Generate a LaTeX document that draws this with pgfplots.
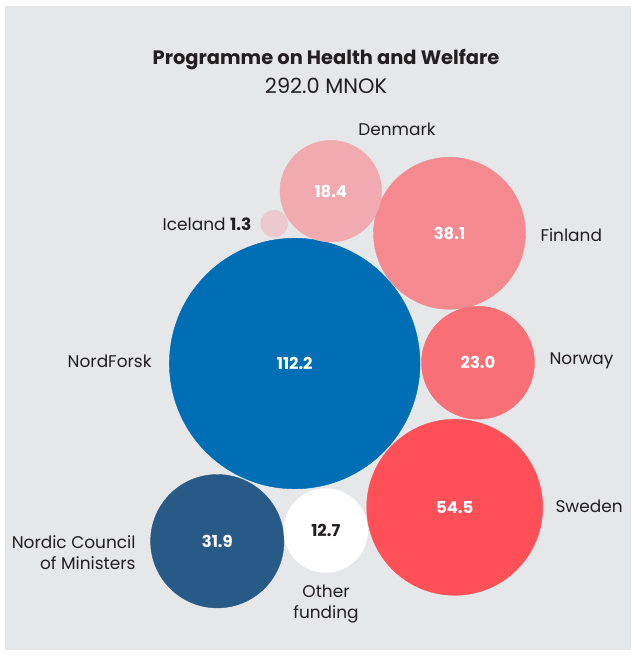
\documentclass[border=0pt]{standalone}
\usepackage{pgfplots}
\pgfplotsset{compat=1.18}
\usepackage{fontspec}
\setmainfont{Poppins}
\definecolor{bg}{HTML}{E6E7E9}
\definecolor{txt}{HTML}{231F20}
\definecolor{nordforsk}{HTML}{006EB5}
\definecolor{ncm}{HTML}{275A87}
\definecolor{sweden}{HTML}{FF5058}
\definecolor{norway}{HTML}{F96F76}
\definecolor{finland}{HTML}{F48A90}
\definecolor{denmark}{HTML}{F0AAB0}
\definecolor{iceland}{HTML}{EBC9CD}
\newcommand{\lbl}{\fontsize{17}{21}\selectfont}
\newcommand{\val}{\fontsize{16.5}{21}\selectfont\bfseries}
\begin{document}
\begin{tikzpicture}
\begin{axis}[
  width=636bp, height=656bp, scale only axis,
  xmin=0, xmax=636, ymin=0, ymax=656, y dir=reverse,
  hide axis, clip=false,
  nodes near coords align={center},
]
% page and panel
\addplot[fill=white, draw=none] coordinates {(0,0) (636,0) (636,656) (0,656)} -- cycle;
\addplot[fill=bg, draw=none] coordinates {(5,6) (631,6) (631,650) (5,650)} -- cycle;
% bubbles: (centre x, centre y), radius
\addplot[only marks, mark=*, mark size=125.3bp, color=nordforsk, mark options={draw=nordforsk, fill=nordforsk},
  nodes near coords={\val 112.2}, every node near coord/.append style={text=white, anchor=center}]
  coordinates {(294.7,363.5)};
\addplot[only marks, mark=*, mark size=88bp, color=sweden, mark options={draw=sweden, fill=sweden},
  nodes near coords={\val 54.5}, every node near coord/.append style={text=white, anchor=center}]
  coordinates {(454.7,507.3)};
\addplot[only marks, mark=*, mark size=76bp, color=finland, mark options={draw=finland, fill=finland},
  nodes near coords={\val 38.1}, every node near coord/.append style={text=white, anchor=center}]
  coordinates {(449.5,233.3)};
\addplot[only marks, mark=*, mark size=66.7bp, color=ncm, mark options={draw=ncm, fill=ncm},
  nodes near coords={\val 31.9}, every node near coord/.append style={text=white, anchor=center}]
  coordinates {(217.3,541.2)};
\addplot[only marks, mark=*, mark size=56.5bp, color=norway, mark options={draw=norway, fill=norway},
  nodes near coords={\val 23.0}, every node near coord/.append style={text=white, anchor=center}]
  coordinates {(478,362.7)};
\addplot[only marks, mark=*, mark size=50.8bp, color=denmark, mark options={draw=denmark, fill=denmark},
  nodes near coords={\val 18.4}, every node near coord/.append style={text=white, anchor=center}]
  coordinates {(330.8,191.2)};
\addplot[only marks, mark=*, mark size=42bp, color=white, mark options={draw=white, fill=white},
  nodes near coords={\val 12.7}, every node near coord/.append style={text=txt, anchor=center}]
  coordinates {(325.8,530.5)};
\addplot[only marks, mark=*, mark size=13.5bp, color=iceland, mark options={draw=iceland, fill=iceland}]
  coordinates {(274.2,223.7)};
% titles and labels
\node[text=txt, font=\fontsize{19.5}{23}\selectfont\bfseries] at (axis cs:326,60) {Programme on Health and Welfare};
\node[text=txt, font=\fontsize{21}{23}\selectfont] at (axis cs:326,86) {292.0 MNOK};
\node[text=txt, font=\lbl] at (axis cs:397,129) {Denmark};
\node[text=txt, font=\lbl, anchor=east] at (axis cs:255,224) {Iceland \textbf{1.3}};
\node[text=txt, font=\lbl, anchor=west] at (axis cs:537,235) {Finland};
\node[text=txt, font=\lbl, anchor=east] at (axis cs:155,361) {NordForsk};
\node[text=txt, font=\lbl, anchor=west] at (axis cs:546,361) {Norway};
\node[text=txt, font=\lbl, anchor=west] at (axis cs:552,506) {Sweden};
\node[text=txt, font=\lbl, anchor=east, align=right] at (axis cs:139,553) {Nordic Council\\of Ministers};
\node[text=txt, font=\lbl, align=center] at (axis cs:326,604) {Other\\funding};
\end{axis}
\end{tikzpicture}
\end{document}
